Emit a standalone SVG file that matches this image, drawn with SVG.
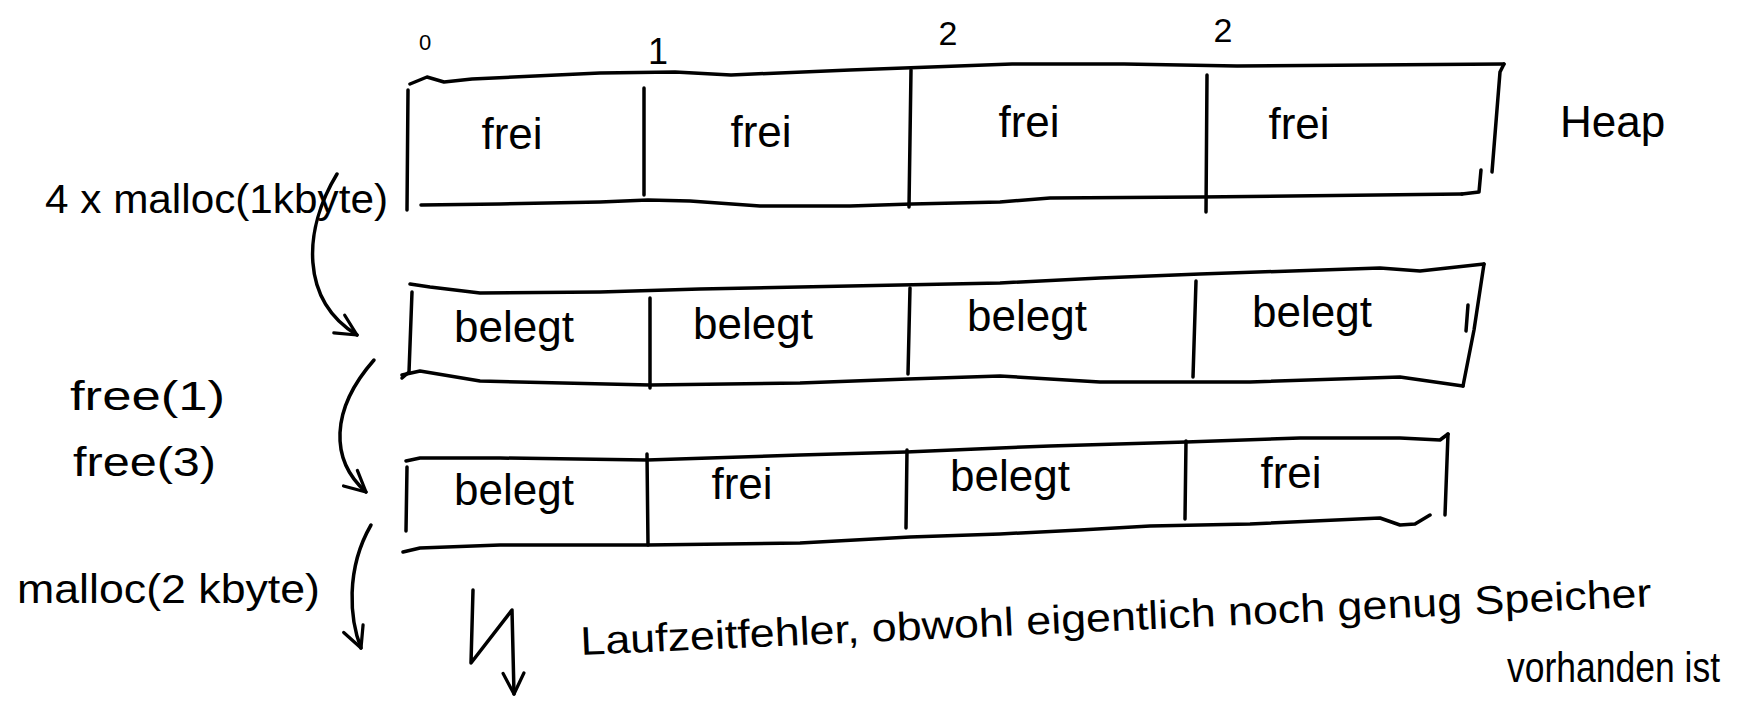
<svg xmlns="http://www.w3.org/2000/svg" width="1763" height="702" viewBox="0 0 1763 702">
<style>
.ln{fill:none;stroke:#000;stroke-width:3.5;stroke-linecap:round;stroke-linejoin:round}
.t{font-family:"Liberation Sans","DejaVu Sans",sans-serif;fill:#000}
.c{font-size:44px;text-anchor:middle}
.l{font-size:40px}
</style>
<defs>
<marker id="ah" viewBox="0 0 20 20" refX="18" refY="10" markerWidth="26" markerHeight="26" markerUnits="userSpaceOnUse" orient="auto">
<path d="M2,2 L18,10 L2,18" fill="none" stroke="#000" stroke-width="2.5" stroke-linecap="round" stroke-linejoin="round"/>
</marker>
</defs>
<rect width="1763" height="702" fill="#fff"/>
<g id="indices" class="t">
<text x="425" y="50" font-size="22" text-anchor="middle">0</text>
<text x="658" y="64" font-size="36" text-anchor="middle">1</text>
<text x="948" y="45" font-size="34" text-anchor="middle">2</text>
<text x="1223" y="42" font-size="34" text-anchor="middle">2</text>
</g>
<g id="heap-initial">
<path class="ln" d="M410,84 L427,77 L444,82 L472,79 L600,73 L675,72 L731,75 L850,70 L1012,64 L1124,64 L1237,66 L1504,64"/>
<path class="ln" d="M408,90 L407,210"/>
<path class="ln" d="M1504,64 L1500,72 L1492,172"/>
<path class="ln" d="M1481,170 L1479,192 L1462,194"/>
<path class="ln" d="M421,205 L500,204 L600,202 L648,200 L690,201 L760,206 L850,206 L912,204 L1000,202 L1050,198 L1200,197 L1462,194"/>
<path class="ln" d="M644,88 L644,195"/>
<path class="ln" d="M911,70 L909,207"/>
<path class="ln" d="M1207,75 L1206,212"/>
<g class="t c">
<text x="512" y="149">frei</text>
<text x="761" y="147">frei</text>
<text x="1029" y="137">frei</text>
<text x="1299" y="139">frei</text>
</g>
</g>
<g id="heap-label" class="t"><text x="1560" y="137" font-size="44">Heap</text></g>
<g id="heap-allocated">
<path class="ln" d="M410,284 L430,287 L480,293 L600,292 L700,289 L900,285 L1000,283 L1100,278 L1200,274 L1380,268 L1420,271 L1484,264"/>
<path class="ln" d="M412,292 L409,372 L402,378"/>
<path class="ln" d="M1484,264 L1474,330 L1463,386"/>
<path class="ln" d="M1468,305 L1466,331"/>
<path class="ln" d="M402,375 L420,371 L480,381 L650,385 L800,383 L908,379 L1000,376 L1100,382 L1250,382 L1400,377 L1463,386"/>
<path class="ln" d="M650,298 L650,388"/>
<path class="ln" d="M910,288 L908,374"/>
<path class="ln" d="M1196,281 L1193,377"/>
<g class="t c">
<text x="514" y="342">belegt</text>
<text x="753" y="339">belegt</text>
<text x="1027" y="331">belegt</text>
<text x="1312" y="327">belegt</text>
</g>
</g>
<g id="heap-fragmented">
<path class="ln" d="M406,461 L420,458 L500,458 L647,460 L800,455 L906,452 L1000,448 L1050,446 L1186,442 L1300,438 L1400,438 L1440,440 L1448,434"/>
<path class="ln" d="M407,467 L406,531"/>
<path class="ln" d="M1448,434 L1445,515"/>
<path class="ln" d="M403,552 L420,548 L500,545 L647,545 L800,543 L910,537 L1000,534 L1080,530 L1150,526 L1250,524 L1380,518 L1400,525 L1415,524 L1430,515"/>
<path class="ln" d="M647,454 L648,545"/>
<path class="ln" d="M907,450 L906,528"/>
<path class="ln" d="M1186,441 L1185,519"/>
<g class="t c">
<text x="514" y="505">belegt</text>
<text x="742" y="499">frei</text>
<text x="1010" y="491">belegt</text>
<text x="1291" y="488">frei</text>
</g>
</g>
<g id="labels" class="t l">
<text x="45" y="213" textLength="343" lengthAdjust="spacingAndGlyphs">4 x malloc(1kbyte)</text>
<text x="70" y="410" textLength="155" lengthAdjust="spacingAndGlyphs">free(1)</text>
<text x="73" y="476" textLength="143" lengthAdjust="spacingAndGlyphs">free(3)</text>
<text x="17" y="603" textLength="303" lengthAdjust="spacingAndGlyphs">malloc(2 kbyte)</text>
</g>
<g id="connectors">
<path class="ln" d="M337,174 C303,230 300,300 357,335" marker-end="url(#ah)"/>
<path class="ln" d="M374,360 C330,410 330,460 366,492" marker-end="url(#ah)"/>
<path class="ln" d="M371,525 C345,570 350,620 361,648" marker-end="url(#ah)"/>
<path class="ln" d="M473,590 L471,663 L512,610 L514,694" marker-end="url(#ah)"/>
</g>
<g id="error-note" class="t l">
<text x="581" y="655" textLength="1072" lengthAdjust="spacingAndGlyphs" transform="rotate(-2.6 581 655)">Laufzeitfehler, obwohl eigentlich noch genug Speicher</text>
<text x="1507" y="682" font-size="42" textLength="213" lengthAdjust="spacingAndGlyphs">vorhanden ist</text>
</g>
</svg>
